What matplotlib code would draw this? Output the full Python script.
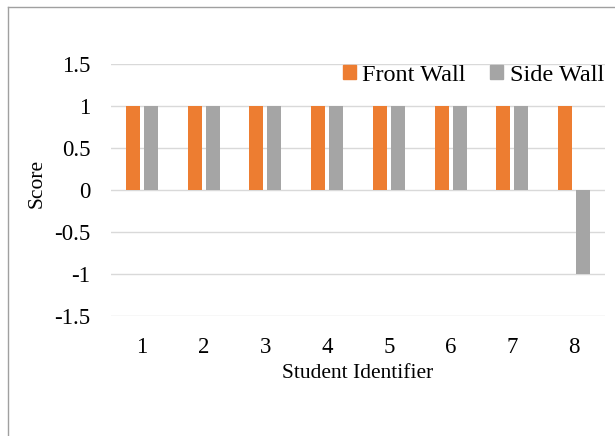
import numpy as np
import matplotlib
matplotlib.use('Agg')
import matplotlib.pyplot as plt
from matplotlib.lines import Line2D
from matplotlib.patches import Patch

plt.rcParams['font.family'] = ['Liberation Serif', 'DejaVu Serif']

students = ['1', '2', '3', '4', '5', '6', '7', '8']
front_wall = [1, 1, 1, 1, 1, 1, 1, 1]
side_wall = [1, 1, 1, 1, 1, 1, 1, -1]
y_ticks = [-1.5, -1, -0.5, 0, 0.5, 1, 1.5]
y_tick_labels = ['-1.5', '-1', '-0.5', '0', '0.5', '1', '1.5']

orange = '#ED7D31'
grey = '#A5A5A5'

fig = plt.figure(figsize=(6.15, 4.36), dpi=100)
W, H = 615, 436
ax = fig.add_axes([111 / W, 1 - 315.7 / H, 494 / W, 251.4 / H])

x = np.arange(len(students))
bw = 0.227
off = 0.146
ax.bar(x - off, front_wall, bw, color=orange, zorder=3)
ax.bar(x + off, side_wall, bw, color=grey, zorder=3)

ax.set_xlim(-0.5, len(students) - 0.5)
ax.set_ylim(-1.5, 1.5)
ax.set_yticks(y_ticks)
ax.set_yticklabels(y_tick_labels)
ax.set_xticks(x)
ax.set_xticklabels(students)
ax.grid(axis='y', color='#D9D9D9', linewidth=1.0, zorder=0)
ax.set_axisbelow(True)
for s in ax.spines.values():
    s.set_visible(False)
ax.tick_params(axis='y', length=0, pad=15, labelsize=16.5)
ax.tick_params(axis='x', length=0, pad=15.5, labelsize=16.5)

fig.text(358 / W, 1 - 373 / H, 'Student Identifier', ha='center', va='center', fontsize=15.5)
fig.text(37 / W, 1 - 183 / H, 'Score', ha='center', va='center', rotation=90, fontsize=15.5)

handles = [Patch(color=orange, label='Front Wall'), Patch(color=grey, label='Side Wall')]
fig.legend(handles=handles, loc='center right', bbox_to_anchor=(604 / W, 1 - 75.5 / H),
           ncol=2, frameon=False, fontsize=17.5, handlelength=0.52, handleheight=0.52,
           handletextpad=0.28, columnspacing=1.0, borderpad=0, borderaxespad=0)

# outer chart border (left and top edges only)
fig.add_artist(Line2D([7.5 / W, 7.5 / W], [0, 1 - 7.5 / H], transform=fig.transFigure,
                      color='#A0A0A0', lw=1.0))
fig.add_artist(Line2D([7.5 / W, 1], [1 - 7.5 / H, 1 - 7.5 / H], transform=fig.transFigure,
                      color='#A0A0A0', lw=1.0))

fig.savefig('out.png', dpi=100)
